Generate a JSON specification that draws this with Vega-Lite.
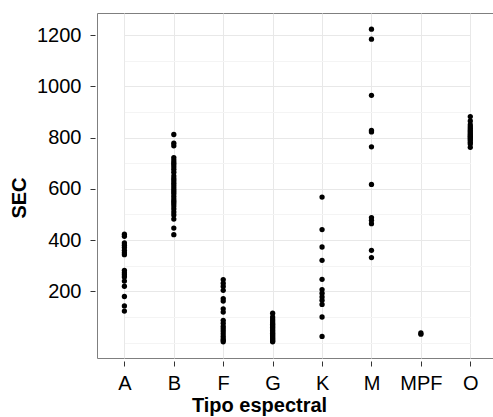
{
  "$schema": "https://vega.github.io/schema/vega-lite/v6.json",
  "width": 396,
  "height": 345,
  "autosize": {"type": "none"},
  "padding": {"left": 97, "top": 13, "right": 0, "bottom": 59},
  "background": "white",
  "config": {
    "view": {"stroke": "#7f7f7f", "strokeWidth": 1},
    "axis": {
      "labelFont": "Liberation Sans",
      "titleFont": "Liberation Sans",
      "labelFontSize": 20,
      "titleFontSize": 20,
      "labelColor": "#000",
      "titleColor": "#000",
      "titleFontWeight": "bold",
      "domain": false,
      "tickColor": "#333333",
      "tickSize": 5,
      "gridColor": "#e8e8e8",
      "gridWidth": 1
    }
  },
  "data": {
    "values": [
      {"tipo": "A", "sec": 423}, {"tipo": "A", "sec": 415}, {"tipo": "A", "sec": 389}, {"tipo": "A", "sec": 380},
      {"tipo": "A", "sec": 371}, {"tipo": "A", "sec": 360}, {"tipo": "A", "sec": 351}, {"tipo": "A", "sec": 343},
      {"tipo": "A", "sec": 282}, {"tipo": "A", "sec": 273}, {"tipo": "A", "sec": 265}, {"tipo": "A", "sec": 256},
      {"tipo": "A", "sec": 240}, {"tipo": "A", "sec": 220}, {"tipo": "A", "sec": 180}, {"tipo": "A", "sec": 143},
      {"tipo": "A", "sec": 123},
      {"tipo": "B", "sec": 812}, {"tipo": "B", "sec": 778}, {"tipo": "B", "sec": 768}, {"tipo": "B", "sec": 722},
      {"tipo": "B", "sec": 712}, {"tipo": "B", "sec": 703}, {"tipo": "B", "sec": 695}, {"tipo": "B", "sec": 686},
      {"tipo": "B", "sec": 676}, {"tipo": "B", "sec": 665}, {"tipo": "B", "sec": 650}, {"tipo": "B", "sec": 640},
      {"tipo": "B", "sec": 632}, {"tipo": "B", "sec": 622}, {"tipo": "B", "sec": 612}, {"tipo": "B", "sec": 603},
      {"tipo": "B", "sec": 595}, {"tipo": "B", "sec": 588}, {"tipo": "B", "sec": 580}, {"tipo": "B", "sec": 570},
      {"tipo": "B", "sec": 560}, {"tipo": "B", "sec": 552}, {"tipo": "B", "sec": 543}, {"tipo": "B", "sec": 533},
      {"tipo": "B", "sec": 522}, {"tipo": "B", "sec": 510}, {"tipo": "B", "sec": 498}, {"tipo": "B", "sec": 482},
      {"tipo": "B", "sec": 447}, {"tipo": "B", "sec": 421},
      {"tipo": "F", "sec": 246}, {"tipo": "F", "sec": 232}, {"tipo": "F", "sec": 219}, {"tipo": "F", "sec": 204},
      {"tipo": "F", "sec": 172}, {"tipo": "F", "sec": 162}, {"tipo": "F", "sec": 132}, {"tipo": "F", "sec": 119},
      {"tipo": "F", "sec": 87}, {"tipo": "F", "sec": 76}, {"tipo": "F", "sec": 63}, {"tipo": "F", "sec": 54},
      {"tipo": "F", "sec": 45}, {"tipo": "F", "sec": 35}, {"tipo": "F", "sec": 24}, {"tipo": "F", "sec": 15},
      {"tipo": "F", "sec": 9}, {"tipo": "F", "sec": 3},
      {"tipo": "G", "sec": 115}, {"tipo": "G", "sec": 100}, {"tipo": "G", "sec": 92}, {"tipo": "G", "sec": 85},
      {"tipo": "G", "sec": 78}, {"tipo": "G", "sec": 72}, {"tipo": "G", "sec": 66}, {"tipo": "G", "sec": 60},
      {"tipo": "G", "sec": 54}, {"tipo": "G", "sec": 48}, {"tipo": "G", "sec": 42}, {"tipo": "G", "sec": 37},
      {"tipo": "G", "sec": 32}, {"tipo": "G", "sec": 27}, {"tipo": "G", "sec": 22}, {"tipo": "G", "sec": 18},
      {"tipo": "G", "sec": 14}, {"tipo": "G", "sec": 10}, {"tipo": "G", "sec": 6}, {"tipo": "G", "sec": 3},
      {"tipo": "K", "sec": 568}, {"tipo": "K", "sec": 441}, {"tipo": "K", "sec": 373}, {"tipo": "K", "sec": 321},
      {"tipo": "K", "sec": 247}, {"tipo": "K", "sec": 207}, {"tipo": "K", "sec": 193}, {"tipo": "K", "sec": 178},
      {"tipo": "K", "sec": 165}, {"tipo": "K", "sec": 149}, {"tipo": "K", "sec": 100}, {"tipo": "K", "sec": 24},
      {"tipo": "M", "sec": 1223}, {"tipo": "M", "sec": 1184}, {"tipo": "M", "sec": 965}, {"tipo": "M", "sec": 828},
      {"tipo": "M", "sec": 822}, {"tipo": "M", "sec": 764}, {"tipo": "M", "sec": 617}, {"tipo": "M", "sec": 488},
      {"tipo": "M", "sec": 477}, {"tipo": "M", "sec": 464}, {"tipo": "M", "sec": 360}, {"tipo": "M", "sec": 332},
      {"tipo": "MPF", "sec": 33}, {"tipo": "MPF", "sec": 38},
      {"tipo": "O", "sec": 882}, {"tipo": "O", "sec": 865}, {"tipo": "O", "sec": 850}, {"tipo": "O", "sec": 842},
      {"tipo": "O", "sec": 835}, {"tipo": "O", "sec": 828}, {"tipo": "O", "sec": 822}, {"tipo": "O", "sec": 815},
      {"tipo": "O", "sec": 810}, {"tipo": "O", "sec": 805}, {"tipo": "O", "sec": 800}, {"tipo": "O", "sec": 795},
      {"tipo": "O", "sec": 790}, {"tipo": "O", "sec": 782}, {"tipo": "O", "sec": 775}, {"tipo": "O", "sec": 762}
    ]
  },
  "mark": {"type": "circle", "size": 28, "color": "#000000", "opacity": 1},
  "encoding": {
    "x": {
      "field": "tipo",
      "type": "nominal",
      "scale": {"type": "point", "domain": ["A", "B", "F", "G", "K", "M", "MPF", "O"], "range": [27.4, 373.3], "padding": 0},
      "axis": {
        "title": "Tipo espectral",
        "labelAngle": 0,
        "grid": true,
        "offset": 3,
        "labelPadding": 7,
        "titleX": 162,
        "titleAnchor": null,
        "titleAlign": "center",
        "titlePadding": 2
      }
    },
    "y": {
      "field": "sec",
      "type": "quantitative",
      "scale": {"domain": [-60, 1286], "nice": false, "zero": false},
      "axis": {
        "title": "SEC",
        "format": "d",
        "values": [0, 100, 200, 300, 400, 500, 600, 700, 800, 900, 1000, 1100, 1200],
        "offset": 2,
        "labelPadding": 9,
        "labelExpr": "(datum.value % 200 === 0 && datum.value > 0) ? datum.label : ''",
        "tickOpacity": {"condition": {"test": "datum.value % 200 === 0 && datum.value > 0", "value": 1}, "value": 0},
        "gridColor": {"condition": {"test": "datum.value % 200 === 0 && datum.value > 0", "value": "#e8e8e8"}, "value": "#f4f4f4"},
        "titleX": -76,
        "titleY": 184.5,
        "titleAlign": "center",
        "titleBaseline": "middle",
        "titleAngle": 270
      }
    }
  }
}
